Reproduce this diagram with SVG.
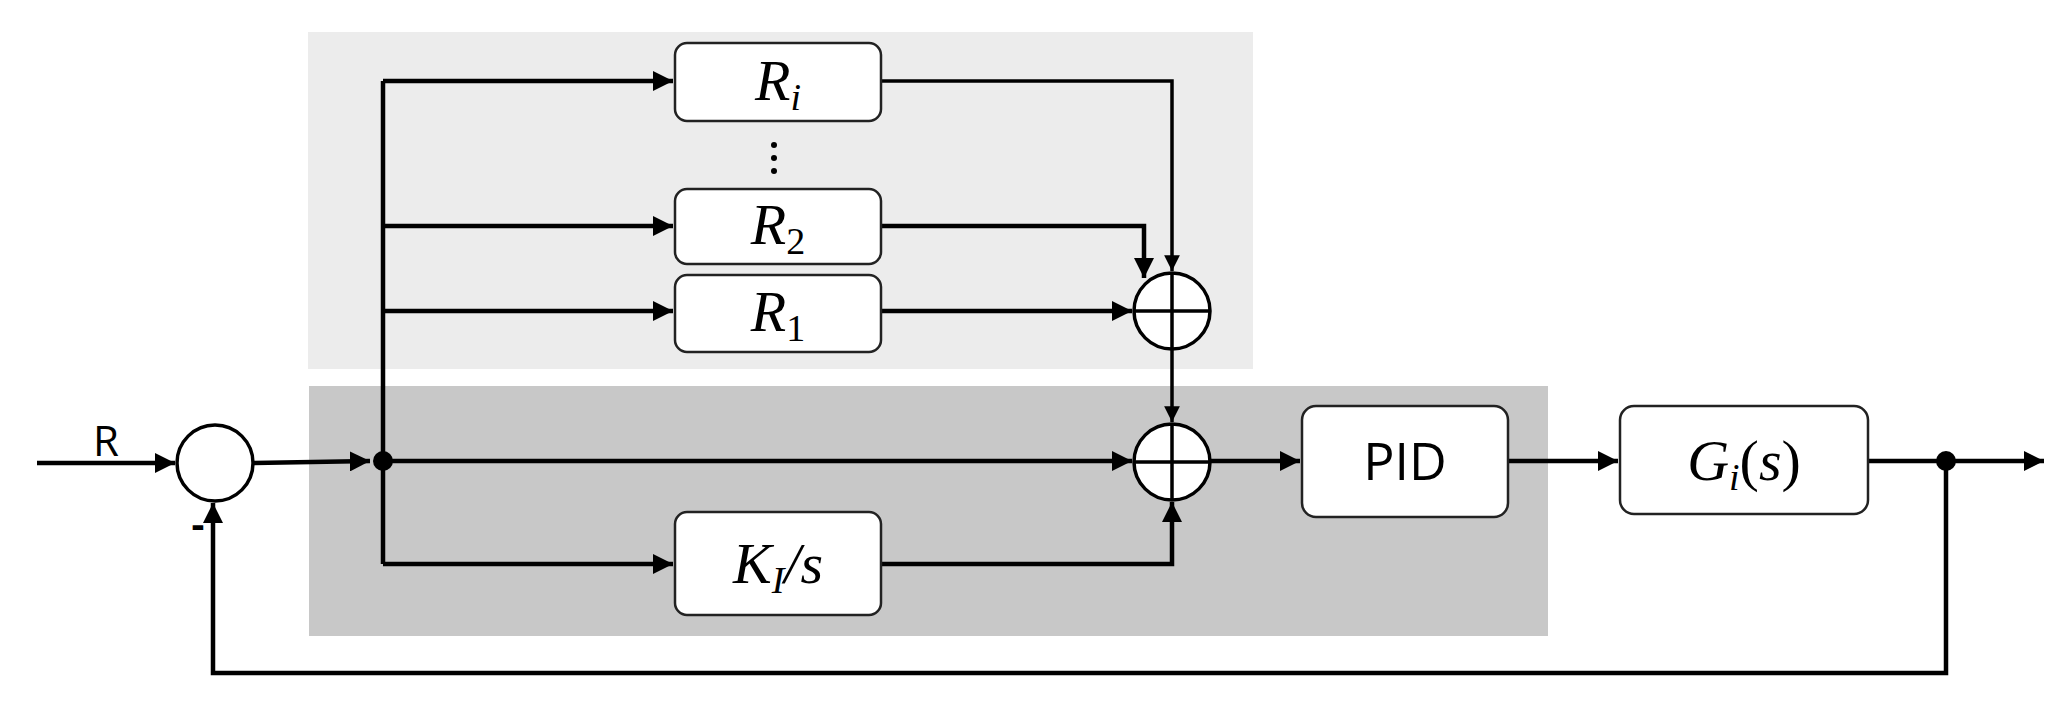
<svg xmlns="http://www.w3.org/2000/svg" width="2071" height="708" viewBox="0 0 2071 708">
<style>
.box{fill:#fff;stroke:#222;stroke-width:2.5}
.ln{fill:none;stroke:#000;stroke-width:4.5}
.thin{fill:none;stroke:#000;stroke-width:3.5}
.m{font-family:"Liberation Serif",serif;font-style:italic;font-size:58px;text-anchor:middle}
.sub{font-size:38px}
.s{font-family:"Open Sans","Liberation Sans",sans-serif;text-anchor:middle}
.sum{fill:#fff;stroke:#000;stroke-width:3.5}
</style>
<defs>
<marker id="a" viewBox="0 0 10 10" refX="10" refY="5" markerWidth="4.5" markerHeight="4.5" orient="auto" markerUnits="strokeWidth"><path d="M0,0 L10,5 L0,10 z"/></marker>
</defs>
<rect x="308" y="32" width="945" height="337" fill="#ececec"/>
<rect x="309" y="386" width="1239" height="250" fill="#c8c8c8"/>
<g id="connectors">
<path class="ln" d="M37,463 H175" marker-end="url(#a)"/>
<path class="ln" d="M253,463 L370,461" marker-end="url(#a)"/>
<path class="ln" d="M383,564 V81"/>
<path class="ln" d="M383,81 H673" marker-end="url(#a)"/>
<path class="ln" d="M383,226 H673" marker-end="url(#a)"/>
<path class="ln" d="M383,311 H673" marker-end="url(#a)"/>
<path class="ln" d="M383,564 H673" marker-end="url(#a)"/>
<path class="ln" d="M383,461 H1132" marker-end="url(#a)"/>
<path class="thin" d="M881,81 H1172 V271" marker-end="url(#a)"/>
<path class="ln" d="M881,226 H1144 V278" marker-end="url(#a)"/>
<path class="ln" d="M881,311 H1132" marker-end="url(#a)"/>
<path class="thin" d="M1172,349 V422" marker-end="url(#a)"/>
<path class="ln" d="M881,564 H1172 V502" marker-end="url(#a)"/>
<path class="ln" d="M1210,461 H1300" marker-end="url(#a)"/>
<path class="ln" d="M1508,461 H1618" marker-end="url(#a)"/>
<path class="ln" d="M1868,461 H2044" marker-end="url(#a)"/>
<path class="ln" d="M1946,461 V673 H213 V503" marker-end="url(#a)"/>
<circle cx="383" cy="461" r="10"/>
<circle cx="1946" cy="461" r="10"/>
</g>
<g id="sum0"><circle class="sum" cx="215" cy="463" r="38"/></g>
<text x="106" y="456" class="s" font-size="42">R</text>
<text x="198" y="538" class="s" font-size="40" font-weight="bold">-</text>
<g id="sum1"><circle class="sum" cx="1172" cy="311" r="38"/><path class="thin" d="M1134,311 H1210 M1172,273 V349"/></g>
<g id="sum2"><circle class="sum" cx="1172" cy="462" r="38"/><path class="thin" d="M1134,462 H1210 M1172,424 V500"/></g>
<g id="Ri"><rect class="box" x="675" y="43" width="206" height="78" rx="12"/><text class="m" x="778" y="100">R<tspan class="sub" dy="10">i</tspan></text></g>
<g id="dots"><circle cx="774" cy="145" r="3"/><circle cx="774" cy="158" r="3"/><circle cx="774" cy="171" r="3"/></g>
<g id="R2"><rect class="box" x="675" y="189" width="206" height="75" rx="12"/><text class="m" x="778" y="244">R<tspan class="sub" dy="10" font-style="normal">2</tspan></text></g>
<g id="R1"><rect class="box" x="675" y="275" width="206" height="77" rx="12"/><text class="m" x="778" y="331">R<tspan class="sub" dy="10" font-style="normal">1</tspan></text></g>
<g id="KI"><rect class="box" x="675" y="512" width="206" height="103" rx="12"/><text class="m" x="778" y="583">K<tspan class="sub" dy="10">I</tspan><tspan dy="-10">/s</tspan></text></g>
<g id="PID"><rect class="box" x="1302" y="406" width="206" height="111" rx="14"/><text class="s" x="1405" y="480" font-size="52">PID</text></g>
<g id="G"><rect class="box" x="1620" y="406" width="248" height="108" rx="14"/><text class="m" x="1744" y="480">G<tspan class="sub" dy="10">i</tspan><tspan dy="-10" font-style="normal">(</tspan>s<tspan font-style="normal">)</tspan></text></g>
</svg>
